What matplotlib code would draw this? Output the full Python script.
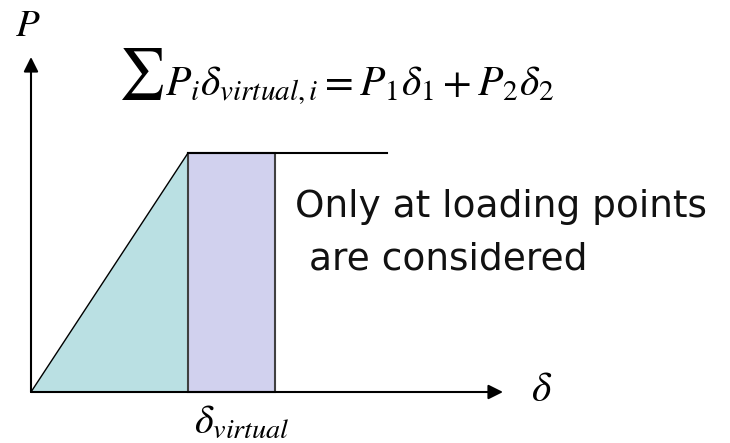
import matplotlib
matplotlib.use('Agg')
import matplotlib.pyplot as plt
from matplotlib.patches import Polygon, Rectangle

# displacement / load values (pixel-like units, origin at lower left of the axes)
delta_yield = 157      # end of the elastic ramp
delta_virtual = 244    # end of the virtual displacement strip
delta_end = 356        # end of the plateau line
load_yield = 239       # plateau load
axis_x_end = 472       # delta axis arrow tip
axis_y_end = 335       # P axis arrow tip

note_lines = ['Only at loading points', 'are considered']

plt.rcParams['mathtext.fontset'] = 'stix'

fig = plt.figure(figsize=(7.30, 4.43), dpi=100)
ax = fig.add_axes([0, 0, 1, 1])
ax.set_xlim(-31, 699)
ax.set_ylim(-51, 392)
ax.axis('off')

# shaded areas
ramp = Polygon([[0, 0], [delta_yield, load_yield], [delta_yield, 0]], closed=True,
               facecolor='#bae0e3', edgecolor='none')
ax.add_patch(ramp)
strip = Rectangle((delta_yield, 0), delta_virtual - delta_yield, load_yield,
                  facecolor='#d1d1ee', edgecolor='#404040', linewidth=1.5)
ax.add_patch(strip)

# load-displacement curve
ax.plot([0, delta_yield], [0, load_yield], color='black', linewidth=1.0)
ax.plot([delta_yield, delta_end], [load_yield, load_yield], color='black', linewidth=1.5)

# axes arrows
ax.annotate('', xy=(axis_x_end, 0), xytext=(0, 0),
            arrowprops=dict(arrowstyle='-|>', color='black', lw=1.5, mutation_scale=22,
                            shrinkA=0, shrinkB=0))
ax.annotate('', xy=(0, axis_y_end), xytext=(0, 0),
            arrowprops=dict(arrowstyle='-|>', color='black', lw=1.5, mutation_scale=22,
                            shrinkA=0, shrinkB=0))

# labels
ax.text(-3, 348, '$P$', fontsize=28, ha='center', va='bottom')
ax.text(511, 3, r'$\delta$', fontsize=30, ha='center', va='center')
ax.text(delta_yield + 6, -10, r'$\delta_{virtual}$', fontsize=29, ha='left', va='top')

# virtual work equation (big summation sign drawn on its own)
ax.text(87, 305, r'$\sum$', fontsize=37, ha='left', va='baseline')
ax.text(134, 297, r'$P_i\delta_{virtual,i} = P_1\delta_1 + P_2\delta_2$',
        fontsize=30, ha='left', va='baseline')

# note text
ax.text(264, 175, note_lines[0], fontsize=27, family='DejaVu Sans',
        ha='left', va='baseline', color='#111111')
ax.text(278, 122, note_lines[1], fontsize=27, family='DejaVu Sans',
        ha='left', va='baseline', color='#111111')

plt.savefig('out.png', dpi=100, facecolor='white')
